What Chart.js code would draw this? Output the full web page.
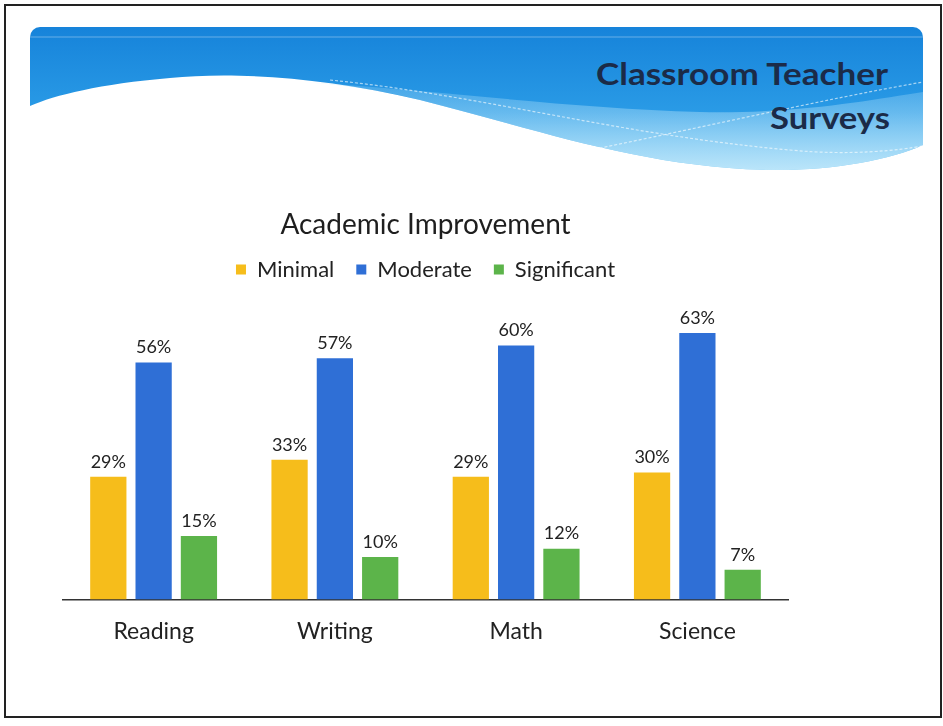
<!DOCTYPE html>
<html>
<head>
<meta charset="utf-8">
<script src="https://cdn.jsdelivr.net/npm/chart.js@4.4.0/dist/chart.umd.min.js"></script>
<style>
  html, body { margin: 0; padding: 0; background: #fff; }
  #slide { position: relative; width: 943px; height: 726px; overflow: hidden; }
  #deco { position: absolute; left: 0; top: 0; }
  #chartBox { position: absolute; left: 0; top: 190px; width: 943px; height: 465px; }
</style>
</head>
<body>
<div id="slide">
  <svg id="deco" width="943" height="726">
    <defs>
      <linearGradient id="bandGrad" x1="0" y1="0" x2="0" y2="1">
        <stop offset="0" stop-color="#1683da"/>
        <stop offset="0.6" stop-color="#2a9be6"/>
        <stop offset="1" stop-color="#6cc3f2"/>
      </linearGradient>
      <linearGradient id="lightGrad" x1="0" y1="0" x2="0" y2="1">
        <stop offset="0" stop-color="#9fd8f7" stop-opacity="0.25"/>
        <stop offset="1" stop-color="#c8ebfb" stop-opacity="0.85"/>
      </linearGradient>
      <clipPath id="bandClip">
        <rect x="30" y="27" width="893" height="150" rx="10" ry="10"/>
      </clipPath>
    </defs>
    <g clip-path="url(#bandClip)">
      <path d="M30 27 H923 V145 C 890 160, 830 171, 770 170 C 640 167, 540 130, 420 100 C 320 76, 230 72, 170 78 C 100 84, 55 95, 30 106 Z" fill="url(#bandGrad)"/>
      <path d="M300 82 C 420 88, 560 108, 700 112 C 800 114, 870 100, 923 92 V145 C 890 160, 830 171, 770 170 C 640 167, 540 130, 420 100 C 380 90, 340 84, 300 82 Z" fill="url(#lightGrad)"/>
      <path d="M330 80 C 480 95, 620 135, 790 150 C 850 156, 900 150, 923 146" fill="none" stroke="#ffffff" stroke-opacity="0.6" stroke-width="1.2" stroke-dasharray="3 2"/>
      <path d="M590 150 C 700 128, 820 100, 923 82" fill="none" stroke="#ffffff" stroke-opacity="0.6" stroke-width="1.2" stroke-dasharray="3 2"/>
      <path d="M30 37 H923" stroke="#ffffff" stroke-opacity="0.35" stroke-width="1"/>
    </g>
    <text x="888" y="85" text-anchor="end" textLength="292" lengthAdjust="spacingAndGlyphs"
          font-family="Lato, 'Open Sans', sans-serif" font-size="31" font-weight="bold" fill="#1b2b48">Classroom Teacher</text>
    <text x="890" y="129" text-anchor="end" textLength="120" lengthAdjust="spacingAndGlyphs"
          font-family="Lato, 'Open Sans', sans-serif" font-size="31" font-weight="bold" fill="#1b2b48">Surveys</text>
    <rect x="5" y="5" width="936" height="712" fill="none" stroke="#222" stroke-width="2"/>
  </svg>
  <div id="chartBox"><canvas id="barChart"></canvas></div>
</div>
<script>
const categories = ['Reading', 'Writing', 'Math', 'Science'];
const minimalValues = [29, 33, 29, 30];
const moderateValues = [56, 57, 60, 63];
const significantValues = [15, 10, 12, 7];

const FONT = "Lato, 'Open Sans', sans-serif";

// draws the "56%" style labels over each bar
const valueLabels = {
    id: 'valueLabels',
    afterDatasetsDraw(chart) {
        const ctx = chart.ctx;
        ctx.save();
        ctx.font = `18px ${FONT}`;
        ctx.fillStyle = '#222';
        ctx.textAlign = 'center';
        ctx.textBaseline = 'bottom';
        chart.data.datasets.forEach((ds, i) => {
            chart.getDatasetMeta(i).data.forEach((bar, j) => {
                ctx.fillText(ds.data[j] + '%', bar.x, bar.y - 6);
            });
        });
        ctx.restore();
    }
};

const ctx = document.getElementById('barChart').getContext('2d');
new Chart(ctx, {
    type: 'bar',
    data: {
        labels: categories,
        datasets: [{
            label: 'Minimal',
            data: minimalValues,
            backgroundColor: '#f6bd1b'
        }, {
            label: 'Moderate',
            data: moderateValues,
            backgroundColor: '#2f6fd6'
        }, {
            label: 'Significant',
            data: significantValues,
            backgroundColor: '#5cb44a'
        }]
    },
    options: {
        responsive: true,
        maintainAspectRatio: false,
        animation: false,
        categoryPercentage: 0.75,
        barPercentage: 0.8,
        layout: {
            padding: { left: 63, right: 155, top: 0, bottom: 0 }
        },
        plugins: {
            title: {
                display: true,
                text: 'Academic Improvement',
                color: '#1e1e1e',
                font: { family: FONT, size: 28, weight: 'normal' },
                padding: { top: 18, bottom: -5 }
            },
            legend: {
                labels: {
                    color: '#222',
                    boxWidth: 10,
                    boxHeight: 10,
                    font: { family: FONT, size: 22 },
                    padding: 22
                }
            },
            tooltip: { enabled: false }
        },
        scales: {
            y: {
                display: false,
                min: 0,
                max: 73
            },
            x: {
                grid: { display: false },
                border: { display: true, color: '#333', width: 1.5 },
                ticks: {
                    color: '#222',
                    padding: 10,
                    font: { family: FONT, size: 23 }
                }
            }
        }
    },
    plugins: [valueLabels]
});
</script>
</body>
</html>
